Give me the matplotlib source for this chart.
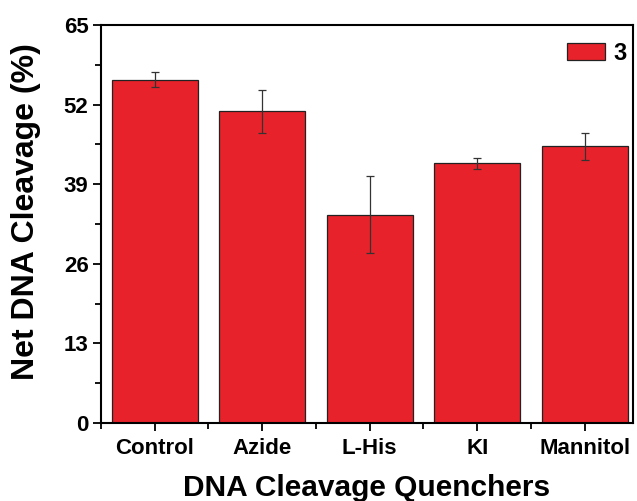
import matplotlib
matplotlib.use("Agg")
import matplotlib.pyplot as plt
from matplotlib.ticker import MultipleLocator, FixedLocator

categories = ["Control", "Azide", "L-His", "KI", "Mannitol"]
values = [56.1, 50.9, 34.0, 42.4, 45.2]
errors = [1.2, 3.5, 6.3, 0.9, 2.2]
series_label = "3"
yticks = [0, 13, 26, 39, 52, 65]

plt.rcParams['font.family'] = ['Liberation Sans', 'DejaVu Sans']
plt.rcParams['font.weight'] = 'bold'

fig = plt.figure(figsize=(6.37, 5.01), dpi=100)
ax = fig.add_axes([0.1586, 0.1557, 0.9937 - 0.1586, 0.950 - 0.1557])

x = list(range(len(categories)))
ax.bar(x, values, width=0.8, color='#E8222A', edgecolor='#222222', linewidth=0.9,
       yerr=errors, error_kw=dict(ecolor='#333333', elinewidth=0.9, capsize=3, capthick=0.9),
       label=series_label, zorder=2)

ax.set_xlim(-0.5, 4.45)
ax.set_ylim(0, 65)
ax.set_xticks(x)
ax.set_xticklabels(categories)
ax.xaxis.set_minor_locator(FixedLocator([i + 0.5 for i in range(-1, len(categories))]))
ax.set_yticks(yticks)
ax.yaxis.set_minor_locator(MultipleLocator(6.5))
ax.tick_params(axis='both', which='major', direction='out', length=6, width=1.3, labelsize=16)
ax.tick_params(axis='both', which='minor', direction='out', length=4, width=1.3)
ax.tick_params(axis='x', which='major', pad=5)
ax.tick_params(axis='y', which='major', pad=3)
for lab in ax.get_xticklabels() + ax.get_yticklabels():
    lab.set_fontweight('bold')
for sp in ax.spines.values():
    sp.set_linewidth(1.5)

ax.set_xlabel("DNA Cleavage Quenchers", fontsize=21.5, fontweight='bold')
ax.set_ylabel("Net DNA Cleavage (%)", fontsize=23, fontweight='bold')
ax.xaxis.set_label_coords(0.5, -0.127)
ax.yaxis.set_label_coords(-0.113, 0.531)

leg = ax.legend(loc='upper right', frameon=False, fontsize=17, handlelength=1.6, handleheight=0.75,
                handletextpad=0.35, borderaxespad=0.3, borderpad=0.4,
                bbox_to_anchor=(1.019, 1.0))
for t in leg.get_texts():
    t.set_fontweight('bold')

fig.savefig("out.png", dpi=100)
